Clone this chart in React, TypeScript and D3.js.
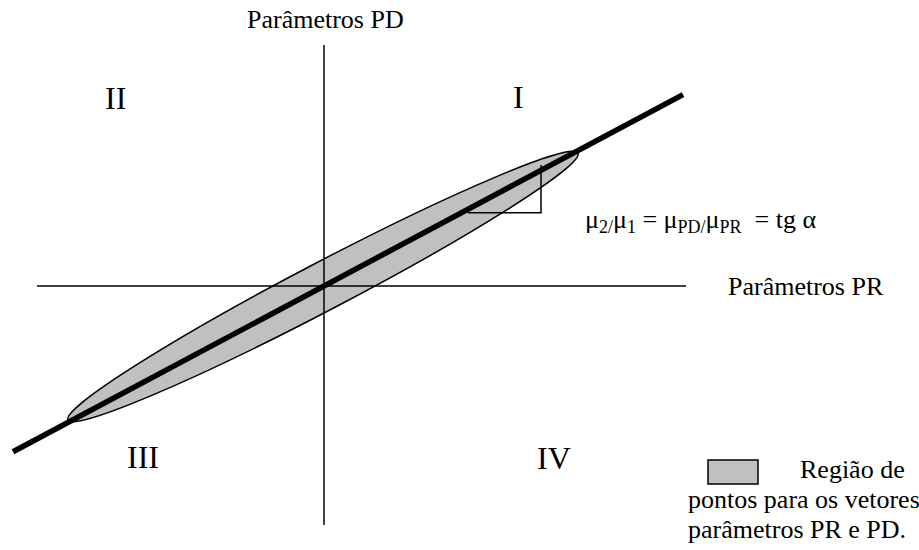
import React from 'react';
import * as d3 from 'd3';

// diagram data (units: 1 = 10 px, origin where the axes cross)
const axisX = [-28.7, 36.2];
const axisY = [-23.9, 24.1];
const trendSlope = 0.533;
const trendX = [-31.1, 35.9];
const ellipseTips = [[-25.6, -13.4], [25.4, 13.3]];
const ellipseHalfWidth = 2.4;
const triangleX = [14.4, 21.7];
const triangleY = [7.33, 12.1];
const quadrants = [
  { label: 'I', x: 18.9, y: 17.8 },
  { label: 'II', x: -21.9, y: 17.7 },
  { label: 'III', x: -19.7, y: -18.2 },
  { label: 'IV', x: 21.3, y: -18.3 },
];
const axisLabelPD = 'Parâmetros PD';
const axisLabelPR = 'Parâmetros PR';
const legendLines = ['Região de', 'pontos para os vetores', 'parâmetros PR e PD.'];

const W = 919;
const H = 550;
const serif = '"Liberation Serif", "Times New Roman", serif';

export default function App() {
  const x = d3.scaleLinear().domain([-32.4, 59.5]).range([0, W]);
  const y = d3.scaleLinear().domain([28.6, -26.4]).range([0, H]);

  const line = d3.line<number>().x((d) => x(d)).y((d) => y(d * trendSlope));

  const [t0, t1] = ellipseTips;
  const cx = (x(t0[0]) + x(t1[0])) / 2;
  const cy = (y(t0[1]) + y(t1[1])) / 2;
  const rx = Math.hypot(x(t1[0]) - x(t0[0]), y(t1[1]) - y(t0[1])) / 2;
  const ry = x(ellipseHalfWidth) - x(0);
  const angle = (Math.atan2(y(t1[1]) - y(t0[1]), x(t1[0]) - x(t0[0])) * 180) / Math.PI;

  return (
    <>
      <style>{`body{margin:0;background:#fff}`}</style>
      <svg width={W} height={H} style={{ display: 'block' }} fontFamily={serif}>
        <rect width={W} height={H} fill="#fff" />
        <ellipse
          cx={cx}
          cy={cy}
          rx={rx}
          ry={ry}
          transform={`rotate(${angle},${cx},${cy})`}
          fill="#c0c0c0"
          stroke="#000"
          strokeWidth={1.5}
        />
        <line x1={x(axisX[0])} x2={x(axisX[1])} y1={y(0)} y2={y(0)} stroke="#000" strokeWidth={1.5} />
        <line x1={x(0)} x2={x(0)} y1={y(axisY[0])} y2={y(axisY[1])} stroke="#000" strokeWidth={1.5} />
        <path d={line(trendX) || ''} stroke="#000" strokeWidth={5.5} fill="none" />
        <path
          d={`M${x(triangleX[0])},${y(triangleY[0])}H${x(triangleX[1])}V${y(triangleY[1])}`}
          stroke="#000"
          strokeWidth={1.5}
          fill="none"
        />

        {quadrants.map((q) => (
          <text key={q.label} x={x(q.x)} y={y(q.y)} fontSize={32}>
            {q.label}
          </text>
        ))}

        <text x={247} y={28} fontSize={26}>{axisLabelPD}</text>
        <text x={728} y={295} fontSize={26}>{axisLabelPR}</text>

        <text x={585} y={228} fontSize={26} style={{ whiteSpace: 'pre' }}>
          <tspan>μ</tspan>
          <tspan fontSize={18} dy={5}>2/</tspan>
          <tspan dy={-5}>μ</tspan>
          <tspan fontSize={18} dy={5}>1</tspan>
          <tspan dy={-5}> = μ</tspan>
          <tspan fontSize={18} dy={5}>PD/</tspan>
          <tspan dy={-5}>μ</tspan>
          <tspan fontSize={18} dy={5}>PR</tspan>
          <tspan dy={-5}>{'  = tg α'}</tspan>
        </text>

        <rect x={708} y={460} width={50} height={24} fill="#c0c0c0" stroke="#000" strokeWidth={1.5} />
        <text x={800} y={478} fontSize={26}>{legendLines[0]}</text>
        <text x={688} y={508} fontSize={26}>{legendLines[1]}</text>
        <text x={688} y={538} fontSize={26}>{legendLines[2]}</text>
      </svg>
    </>
  );
}
